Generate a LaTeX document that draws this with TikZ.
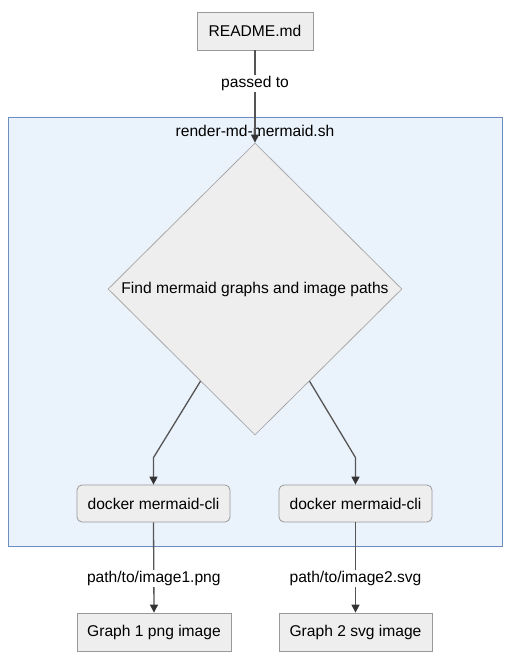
\documentclass[tikz,border=0pt]{standalone}
\usepackage{fontspec}
\setmainfont{Liberation Sans}
\usetikzlibrary{shapes.geometric,arrows.meta,calc}
\definecolor{nodefill}{HTML}{EEEEEE}
\definecolor{nodeline}{HTML}{999999}
\definecolor{diaLine}{HTML}{AAAAAA}
\definecolor{clusterfill}{HTML}{EAF2FC}
\definecolor{clusterline}{HTML}{6C8EBF}
\definecolor{edgecol}{HTML}{555555}
\definecolor{tipcol}{HTML}{333333}
\tikzset{
  txt/.style={font=\fontsize{15.6}{18}\selectfont, text=black},
  sqbox/.style={txt, draw=nodeline, fill=nodefill, line width=0.8pt, minimum height=38pt, inner sep=0pt},
  rbox/.style={sqbox, rounded corners=5pt},
  dia/.style={txt, diamond, draw=diaLine, fill=nodefill, line width=0.8pt, inner sep=0pt, shape aspect=1, minimum width=294pt, minimum height=292pt},
  edge/.style={draw=edgecol, line width=1.3pt, -{Triangle[length=8pt,width=8pt,color=tipcol]}},
  elabel/.style={txt, fill=white, inner sep=1.5pt},
}
\begin{document}
\begin{tikzpicture}[x=1pt,y=-1pt]
\useasboundingbox (0,0) rectangle (518,664);
\fill[white] (0,0) rectangle (518,664);
% cluster
\draw[fill=clusterfill, draw=clusterline, line width=0.9pt] (8,117) rectangle (502,546);
\node[txt] (clabel) at (255,131) {render-md-mermaid.sh};
% nodes
\node[sqbox, minimum width=116pt] (readme) at (255,31) {README.md};
\node[dia] (find) at (255,289) {Find mermaid graphs and image paths};
\node[rbox, minimum width=153pt, minimum height=37pt] (dockL) at (153.5,503.5) {docker mermaid-cli};
\node[rbox, minimum width=153pt, minimum height=37pt] (dockR) at (355.5,503.5) {docker mermaid-cli};
\node[sqbox, minimum width=154pt] (g1) at (154,632) {Graph 1 png image};
\node[sqbox, minimum width=153pt] (g2) at (355.5,632) {Graph 2 svg image};
% edges
\draw[edge] (readme.south) -- node[elabel, pos=0.36] {passed to} (find.north);
\coordinate (sL) at ($(find.west)!0.63!(find.south)$);
\coordinate (sR) at ($(find.east)!0.63!(find.south)$);
\draw[edge] (sL) -- ($(dockL.north)+(0,-27)$) -- (dockL.north);
\draw[edge] (sR) -- ($(dockR.north)+(0,-27)$) -- (dockR.north);
\draw[edge] (dockL.south) -- node[elabel, pos=0.62] {path/to/image1.png} (g1.north);
\draw[edge] (dockR.south) -- node[elabel, pos=0.62] {path/to/image2.svg} (g2.north);
\end{tikzpicture}
\end{document}
